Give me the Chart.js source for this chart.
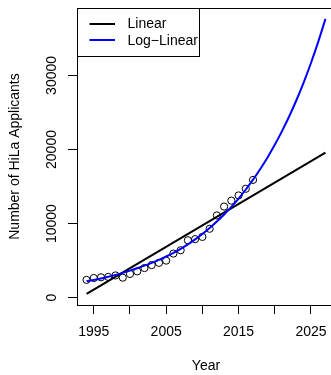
<!DOCTYPE html>
<html>
<head>
<meta charset="utf-8">
<script src="https://cdn.jsdelivr.net/npm/chart.js@4/dist/chart.umd.min.js"></script>
<style>
  html, body { margin: 0; padding: 0; background: #fff; overflow: hidden; }
  canvas { display: block; }
</style>
</head>
<body>
<canvas id="c" width="340" height="375"></canvas>
<script>
// ---- data ----
const years = [1994, 1995, 1996, 1997, 1998, 1999, 2000, 2001, 2002, 2003, 2004, 2005,
               2006, 2007, 2008, 2009, 2010, 2011, 2012, 2013, 2014, 2015, 2016, 2017];
const applicants = [2400, 2650, 2750, 2800, 3000, 2700, 3200, 3550, 4000, 4400, 4700, 5000,
                    5950, 6400, 7750, 7900, 8200, 9300, 11100, 12300, 13100, 13800, 14700, 15900];

const fitYears = [1994, 1995, 1996, 1997, 1998, 1999, 2000, 2001, 2002, 2003, 2004, 2005,
                  2006, 2007, 2008, 2009, 2010, 2011, 2012, 2013, 2014, 2015, 2016, 2017,
                  2018, 2019, 2020, 2021, 2022, 2023, 2024, 2025, 2026, 2027];
const logLinearFit = [2210, 2400, 2600, 2830, 3080, 3350, 3650, 3970, 4320, 4700, 5110, 5560,
                      6050, 6600, 7200, 7870, 8600, 9400, 10280, 11230, 12260, 13380, 14600, 15930,
                      17370, 18930, 20630, 22480, 24490, 26680, 29070, 31680, 34520, 37630];

const linearYears = [1994, 2027];
const linearFit = [500, 19580];

const xTickValues = [1995, 2000, 2005, 2010, 2015, 2020, 2025];
const xTickLabels = ['1995', '', '2005', '', '2015', '', '2025'];
const yTickValues = [0, 10000, 20000, 30000];
const yTickLabels = ['0', '10000', '20000', '30000'];

const seriesNames = ['Linear', 'Log\u2212Linear'];
const xTitle = 'Year';
const yTitle = 'Number of HiLa Applicants';

// ---- chart ----
const FONT = { family: '"Liberation Sans", Arial, Helvetica, sans-serif', size: 14 };

const toXY = (xs, ys) => xs.map((x, i) => ({ x: x, y: ys[i] }));

const framePlugin = {
  id: 'frame',
  afterDraw(chart) {
    const ctx = chart.ctx, a = chart.chartArea;
    ctx.save();
    ctx.strokeStyle = '#000';
    ctx.lineWidth = 1;
    ctx.strokeRect(Math.round(a.left) + 0.5, Math.round(a.top) + 0.5,
                   Math.round(a.right - a.left), Math.round(a.bottom - a.top));
    // legend box (top-left, inside plot)
    const lx = Math.round(a.left), ly = Math.round(a.top);
    ctx.strokeRect(lx + 0.5, ly + 0.5, 122, 48);
    const items = chart.data.datasets.filter(d => d.inLegend);
    items.sort((p, q) => p.legendOrder - q.legendOrder);
    ctx.font = FONT.size + 'px ' + FONT.family;
    ctx.textBaseline = 'middle';
    ctx.textAlign = 'left';
    items.forEach((d, i) => {
      const yy = ly + 16 + i * 16.4;
      ctx.beginPath();
      ctx.strokeStyle = d.borderColor;
      ctx.lineWidth = 2;
      ctx.moveTo(lx + 12.5, Math.round(yy));
      ctx.lineTo(lx + 38, Math.round(yy));
      ctx.stroke();
      ctx.fillStyle = '#000';
      ctx.fillText(d.label, lx + 50.5, yy + 0.5);
    });
    ctx.restore();
  }
};

new Chart(document.getElementById('c'), {
  type: 'scatter',
  data: {
    datasets: [
      {
        label: seriesNames[1],
        inLegend: true, legendOrder: 1,
        data: toXY(fitYears, logLinearFit),
        showLine: true,
        borderColor: '#0000FF',
        backgroundColor: '#0000FF',
        borderWidth: 2,
        pointRadius: 0,
        cubicInterpolationMode: 'monotone',
        fill: false
      },
      {
        label: seriesNames[0],
        inLegend: true, legendOrder: 0,
        data: toXY(linearYears, linearFit),
        showLine: true,
        borderColor: '#000000',
        backgroundColor: '#000000',
        borderWidth: 2,
        pointRadius: 0,
        fill: false
      },
      {
        label: 'Observed',
        data: toXY(years, applicants),
        showLine: false,
        pointStyle: 'circle',
        pointRadius: 3.6,
        pointBorderWidth: 1,
        borderColor: '#000000',
        backgroundColor: 'rgba(0,0,0,0)'
      }
    ]
  },
  options: {
    responsive: false,
    animation: false,
    events: [],
    layout: { padding: { left: 0, right: 4, top: 8, bottom: 0 } },
    plugins: {
      legend: { display: false },
      tooltip: { enabled: false },
      title: { display: false }
    },
    scales: {
      x: {
        type: 'linear',
        position: 'bottom',
        min: 1992.68,
        max: 2028.32,
        afterBuildTicks: s => { s.ticks = xTickValues.map(v => ({ value: v })); },
        afterFit: s => { s.height = 70; s.paddingLeft = 0; s.paddingRight = 0; },
        grid: { display: true, drawOnChartArea: false, drawTicks: true, tickLength: 9, color: '#000', lineWidth: 1 },
        border: { display: true, color: '#000', width: 1 },
        ticks: {
          autoSkip: false, minRotation: 0, maxRotation: 0, padding: 10, color: '#000', font: FONT,
          callback: (v) => { const i = xTickValues.indexOf(v); return i >= 0 ? xTickLabels[i] : ''; }
        },
        title: { display: true, text: xTitle, color: '#000', font: FONT, padding: { top: 0, bottom: 0.8 } }
      },
      y: {
        type: 'linear',
        position: 'left',
        min: -990,
        max: 39100,
        afterBuildTicks: s => { s.ticks = yTickValues.map(v => ({ value: v })); },
        afterFit: s => { s.width = 77; s.paddingTop = 0; s.paddingBottom = 0; },
        grid: { display: true, drawOnChartArea: false, drawTicks: true, tickLength: 9, color: '#000', lineWidth: 1 },
        border: { display: true, color: '#000', width: 1 },
        ticks: {
          autoSkip: false, minRotation: 90, maxRotation: 90, crossAlign: 'center', padding: -3.5,
          color: '#000', font: FONT,
          callback: (v) => { const i = yTickValues.indexOf(v); return i >= 0 ? yTickLabels[i] : ''; }
        },
        title: { display: true, text: yTitle, color: '#000', font: FONT, padding: { top: 7, bottom: 0 } }
      }
    }
  },
  plugins: [framePlugin]
});
</script>
</body>
</html>
